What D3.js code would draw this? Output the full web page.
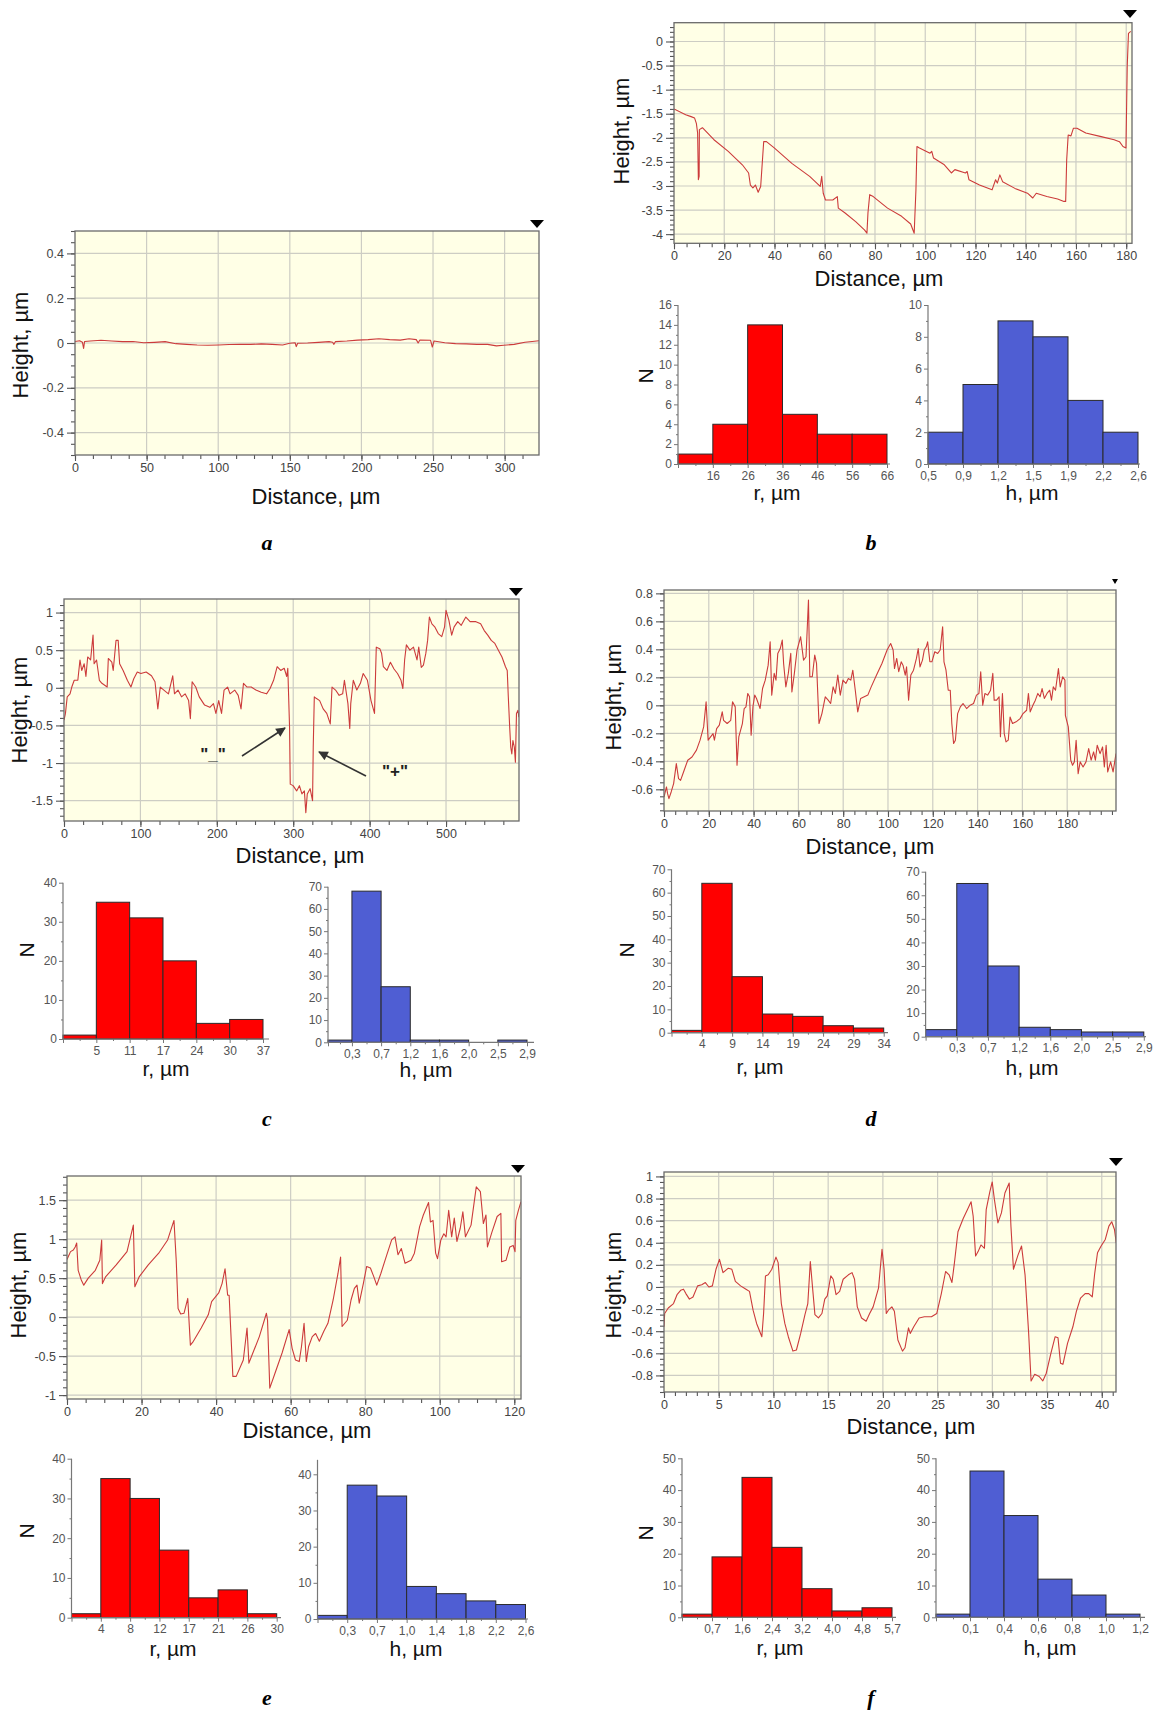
<!DOCTYPE html>
<html><head><meta charset="utf-8">
<script src="https://cdn.jsdelivr.net/npm/d3@7"></script>
<style>body{margin:0;background:#fff}</style>
</head><body>
<svg id="fig" width="1155" height="1714"></svg>
<script>
// ---------------- DATA ----------------
// profiles: [distance µm, height µm]
const aProfile = [[0,0.007],[3.2,0.010],[5.2,0.003],[6.0,-0.024],[6.7,0.007],[10.7,0.009],[18.2,0.012],[25.6,0.009],[33.1,0.006],[40.5,0.007],[48.0,0.001],[55.5,0.003],[62.9,0.006],[70.4,-0.003],[77.9,-0.006],[85.3,-0.009],[92.8,-0.010],[100.2,-0.009],[107.7,-0.007],[115.2,-0.006],[122.6,-0.006],[130.1,-0.004],[137.6,-0.006],[145.0,-0.009],[150.0,-0.001],[153.7,0.001],[154.5,-0.016],[155.5,-0.001],[162.4,0.000],[169.9,0.003],[177.4,0.006],[179.9,0.003],[180.8,-0.006],[181.8,0.006],[189.8,0.009],[197.3,0.013],[204.7,0.015],[212.2,0.019],[219.7,0.015],[227.1,0.013],[233.3,0.019],[238.3,0.015],[239.6,0.000],[240.8,0.013],[248.3,0.012],[249.5,-0.018],[250.7,0.009],[258.2,0.001],[265.7,-0.003],[273.1,-0.004],[280.6,-0.006],[288.1,-0.006],[294.3,-0.013],[299.3,-0.010],[306.7,-0.006],[314.2,0.003],[319.2,0.007],[324.0,0.010]];
const bProfile = [[0,-1.40],[4.65,-1.52],[6.8,-1.56],[8.2,-1.59],[8.9,-1.70],[9.4,-1.90],[9.7,-2.87],[10.0,-2.80],[10.1,-1.83],[11.3,-1.79],[15.9,-2.04],[21.6,-2.28],[27.2,-2.56],[29.7,-2.73],[30.4,-2.98],[31.4,-3.04],[32.4,-2.98],[33.5,-3.13],[34.5,-3.01],[35.7,-2.08],[36.8,-2.08],[39.9,-2.21],[46.9,-2.53],[54.0,-2.80],[58.2,-3.01],[58.8,-2.80],[59.4,-3.15],[60.3,-3.29],[63.2,-3.29],[65.0,-3.22],[65.4,-3.46],[68.1,-3.56],[72.3,-3.74],[75.8,-3.91],[76.8,-3.98],[77.2,-3.56],[77.9,-3.18],[79.3,-3.22],[85.0,-3.46],[90.6,-3.63],[94.2,-3.79],[95.6,-3.98],[96.3,-3.08],[96.7,-2.18],[97.7,-2.21],[101.9,-2.32],[102.6,-2.28],[103.3,-2.42],[107.6,-2.56],[110.4,-2.73],[111.8,-2.66],[116.0,-2.73],[116.7,-2.70],[117.4,-2.87],[121.6,-2.98],[126.6,-3.08],[128.0,-2.87],[128.7,-2.94],[129.7,-2.77],[130.8,-2.91],[135.7,-3.05],[140.7,-3.15],[142.8,-3.25],[144.2,-3.15],[148.4,-3.22],[152.7,-3.27],[155.2,-3.32],[155.9,-3.32],[156.3,-2.46],[156.9,-1.94],[158.0,-1.96],[159.0,-1.80],[160.4,-1.80],[163.9,-1.90],[169.6,-1.97],[175.2,-2.04],[177.3,-2.08],[178.7,-2.18],[179.9,-2.21],[180.4,-0.52],[180.9,0.17],[181.8,0.21]];
const cProfile = [[0,-0.43],[1.9,-0.34],[4.2,-0.12],[7.9,-0.08],[10.2,0.01],[13.4,0.10],[18.1,0.10],[20.9,0.37],[23.2,0.23],[26.4,0.32],[28.7,0.15],[31.0,0.41],[34.8,0.37],[38.0,0.70],[39.4,0.32],[42.6,0.37],[46.3,0.10],[49.6,0.06],[56.5,0.01],[58.0,0.39],[62.6,0.34],[64.4,0.23],[68.1,0.63],[70.9,0.63],[72.8,0.32],[77.4,0.23],[82.9,0.10],[87.6,0.01],[91.3,0.12],[95.9,0.21],[100.6,0.19],[107.5,0.21],[114.5,0.16],[119.1,0.08],[122.8,-0.28],[126.0,0.01],[130.7,-0.03],[136.7,-0.08],[142.3,0.16],[144.6,-0.08],[149.2,-0.03],[153.8,-0.12],[158.5,-0.08],[163.1,-0.17],[165.4,-0.41],[167.7,0.08],[172.4,0.01],[177.0,-0.12],[184.0,-0.23],[190.9,-0.26],[195.6,-0.21],[198.8,-0.34],[202.5,-0.17],[206.2,-0.34],[209.5,-0.03],[214.1,0.01],[217.3,-0.08],[223.4,-0.03],[228.0,-0.10],[231.7,-0.28],[234.9,0.06],[239.6,0.01],[245.1,0.01],[251.2,-0.03],[258.1,-0.06],[265.1,-0.08],[269.7,-0.01],[274.3,0.10],[279.0,0.28],[283.6,0.23],[288.2,0.26],[291.5,0.15],[292.9,0.26],[295.2,-0.52],[296.1,-1.28],[299.8,-1.30],[304.5,-1.37],[308.1,-1.30],[311.4,-1.41],[314.6,-1.37],[316.5,-1.66],[318.4,-1.41],[322.1,-1.34],[325.3,-1.50],[326.2,-0.79],[327.6,-0.12],[330.0,-0.14],[334.6,-0.17],[339.2,-0.28],[343.9,-0.34],[348.5,-0.48],[350.8,0.01],[355.4,-0.03],[360.1,-0.10],[364.7,-0.08],[367.0,0.10],[371.6,-0.21],[374.0,-0.54],[375.3,-0.21],[378.6,0.10],[383.2,-0.03],[387.9,0.06],[391.6,0.19],[397.1,0.10],[401.8,-0.17],[406.4,-0.34],[408.7,0.54],[413.3,0.52],[415.6,0.46],[418.0,0.28],[422.6,0.23],[427.2,0.34],[431.9,0.25],[436.5,0.19],[441.1,0.10],[443.5,-0.01],[445.8,0.37],[448.1,0.57],[452.7,0.50],[457.4,0.54],[462.0,0.37],[464.3,0.54],[467.6,0.27],[470.4,0.30],[473.6,0.46],[475.9,0.63],[478.2,0.94],[481.5,0.85],[485.2,0.81],[489.8,0.72],[494.4,0.68],[498.1,0.81],[500.0,1.03],[503.7,0.90],[507.4,0.70],[510.6,0.81],[515.3,0.88],[519.9,0.83],[525.9,0.94],[531.5,0.88],[538.4,0.88],[545.3,0.85],[550.0,0.76],[554.6,0.70],[559.2,0.63],[563.9,0.59],[568.5,0.50],[573.2,0.41],[577.8,0.28],[580.1,0.23],[581.5,-0.12],[583.3,-0.52],[584.7,-0.79],[586.1,-0.88],[587.5,-0.70],[589.4,-0.79],[590.8,-0.99],[592.2,-0.34],[594.0,-0.30],[595.4,-0.39]];
const dProfile = [[0,-0.655],[1.1,-0.583],[1.6,-0.631],[2.2,-0.667],[3.2,-0.619],[4.3,-0.559],[5.5,-0.416],[6.5,-0.524],[7.4,-0.536],[9.0,-0.464],[10.6,-0.392],[12.5,-0.369],[14.5,-0.320],[16.1,-0.249],[17.7,-0.154],[18.8,0.025],[19.7,-0.249],[20.8,-0.225],[21.9,-0.202],[22.5,-0.249],[23.5,-0.166],[24.7,-0.142],[26.0,-0.047],[26.6,-0.107],[28.2,-0.130],[29.8,-0.107],[30.6,0.025],[31.8,-0.011],[32.6,-0.428],[33.4,-0.225],[35.0,-0.130],[35.8,-0.023],[36.6,-0.011],[37.4,0.085],[38.2,0.061],[38.9,-0.214],[39.7,-0.011],[40.5,0.073],[41.3,0.049],[42.9,-0.023],[44.0,0.120],[45.2,0.180],[46.5,0.287],[47.4,0.454],[48.1,0.073],[49.2,0.228],[50.0,0.180],[50.8,0.371],[51.9,0.406],[52.8,0.466],[53.4,0.299],[54.4,0.132],[55.5,0.228],[56.6,0.371],[57.1,0.096],[58.2,0.228],[59.4,0.395],[61.0,0.490],[62.3,0.323],[63.4,0.347],[64.5,0.752],[65.1,0.204],[66.2,0.204],[67.3,0.359],[68.1,0.299],[69.2,-0.130],[70.5,-0.059],[72.0,0.061],[73.3,0.037],[74.4,0.013],[75.5,0.132],[76.5,0.085],[77.6,0.216],[78.7,0.073],[79.9,0.180],[81.2,0.156],[82.3,0.192],[83.4,0.180],[84.3,0.251],[85.4,0.108],[86.5,-0.047],[87.8,0.049],[89.4,0.061],[91.0,0.073],[92.5,0.132],[94.9,0.216],[97.3,0.299],[99.6,0.395],[101.2,0.442],[102.3,0.395],[102.9,0.263],[103.9,0.335],[104.8,0.240],[105.9,0.311],[106.7,0.287],[107.7,0.216],[108.3,0.275],[109.2,0.037],[110.2,0.216],[111.4,0.251],[112.7,0.335],[113.5,0.406],[114.3,0.275],[115.4,0.323],[116.2,0.395],[117.1,0.418],[117.7,0.454],[118.7,0.311],[119.6,0.311],[120.9,0.383],[122.2,0.371],[123.3,0.395],[124.4,0.561],[125.0,0.311],[125.9,0.251],[126.9,0.108],[127.8,0.108],[128.5,-0.130],[129.3,-0.273],[130.1,-0.249],[131.1,-0.059],[132.3,-0.011],[133.5,0.013],[135.1,-0.023],[136.7,0.001],[138.2,0.013],[139.5,0.073],[140.6,0.085],[141.4,0.240],[142.3,0.001],[143.3,0.085],[144.5,0.073],[145.8,0.108],[146.8,0.228],[147.4,0.037],[148.5,0.037],[149.6,0.061],[150.2,-0.225],[151.1,0.085],[151.9,-0.202],[152.7,-0.261],[153.7,-0.249],[154.5,-0.083],[155.6,-0.130],[157.2,-0.118],[159.0,-0.095],[160.3,-0.059],[161.9,-0.035],[162.7,0.085],[163.5,-0.047],[164.7,0.001],[165.8,0.037],[166.9,0.085],[167.9,0.061],[168.8,0.120],[169.8,0.049],[171.0,0.085],[172.2,0.108],[173.0,0.037],[173.8,0.132],[174.8,0.108],[176.1,0.263],[176.9,0.132],[178.0,0.204],[179.0,0.180],[179.2,-0.071],[180.5,-0.154],[181.6,-0.392],[182.4,-0.428],[183.2,-0.404],[184.0,-0.249],[184.9,-0.488],[185.8,-0.404],[187.1,-0.440],[188.4,-0.404],[189.6,-0.309],[190.7,-0.392],[191.8,-0.333],[192.6,-0.392],[193.4,-0.285],[194.7,-0.345],[195.8,-0.297],[196.6,-0.440],[197.4,-0.285],[198.1,-0.476],[199.4,-0.404],[200.5,-0.476],[201.8,-0.345]];
const eProfile = [[0,0.74],[0.95,0.84],[1.7,0.86],[2.2,0.90],[2.6,0.95],[3.0,0.60],[3.8,0.48],[4.5,0.41],[5.7,0.50],[7.6,0.60],[8.8,0.73],[9.3,0.99],[9.5,0.43],[10.4,0.52],[13.2,0.67],[16.1,0.84],[17.8,1.18],[18.2,0.39],[19.4,0.52],[21.8,0.67],[24.6,0.82],[27.0,0.99],[28.7,1.24],[29.3,0.73],[29.8,0.11],[30.5,0.04],[31.4,0.05],[32.4,0.24],[33.1,-0.36],[33.9,-0.31],[36.0,-0.14],[37.9,0.03],[38.8,0.20],[40.7,0.31],[41.6,0.43],[42.4,0.62],[43.1,0.28],[43.5,0.28],[44.5,-0.76],[45.4,-0.76],[47.3,-0.55],[48.3,-0.14],[48.8,-0.59],[49.7,-0.48],[51.6,-0.25],[53.5,0.05],[53.8,-0.04],[54.4,-0.91],[55.8,-0.72],[57.7,-0.46],[59.6,-0.16],[60.4,-0.40],[61.3,-0.55],[62.3,-0.57],[62.9,-0.38],[63.6,-0.08],[64.2,-0.57],[64.8,-0.38],[65.8,-0.25],[66.7,-0.21],[67.7,-0.31],[68.9,-0.18],[70.0,-0.08],[71.4,0.22],[72.7,0.56],[73.4,0.77],[73.8,-0.12],[75.2,-0.04],[76.2,0.22],[77.1,0.37],[77.8,0.41],[78.4,0.18],[79.5,0.43],[80.4,0.65],[81.4,0.63],[82.3,0.52],[83.1,0.41],[84.2,0.56],[85.6,0.77],[87.1,0.99],[88.0,1.03],[88.8,0.80],[89.7,0.88],[90.7,0.69],[92.3,0.73],[93.2,0.82],[94.6,1.16],[95.6,1.31],[97.0,1.47],[97.5,1.22],[98.2,1.24],[98.9,0.82],[99.4,0.75],[100.3,0.99],[101.1,1.07],[101.7,1.03],[102.4,1.37],[103.2,1.03],[103.9,1.27],[104.6,0.97],[105.5,1.14],[106.2,1.35],[106.9,1.03],[108.4,1.18],[109.8,1.67],[110.9,1.61],[111.7,1.20],[112.4,1.31],[112.8,0.90],[114.0,1.09],[115.4,1.29],[116.4,1.33],[116.6,0.71],[117.8,0.73],[118.8,0.90],[119.7,0.92],[120.2,0.84],[120.4,1.24],[121.1,1.37],[121.8,1.48]];
const fProfile = [[0,-0.36],[0.06,-0.24],[0.39,-0.19],[0.87,-0.15],[1.19,-0.07],[1.52,-0.03],[1.78,-0.02],[2.0,-0.06],[2.32,-0.11],[2.65,-0.09],[3.07,0.01],[3.45,0.02],[3.78,0.04],[4.10,0.00],[4.42,0.01],[4.75,0.16],[5.07,0.25],[5.39,0.13],[5.88,0.17],[6.2,0.16],[6.52,0.05],[7.0,0.01],[7.49,-0.02],[7.81,-0.04],[8.14,-0.21],[8.46,-0.33],[8.94,-0.45],[9.10,-0.24],[9.27,0.10],[9.52,0.11],[9.85,0.16],[10.23,0.27],[10.43,0.22],[10.72,-0.15],[11.04,-0.33],[11.36,-0.45],[11.78,-0.58],[12.1,-0.57],[12.49,-0.42],[12.88,-0.25],[13.14,-0.15],[13.37,0.23],[13.56,0.01],[13.79,-0.25],[14.11,-0.28],[14.43,-0.24],[14.69,-0.11],[14.92,-0.08],[15.24,0.10],[15.46,0.07],[15.72,-0.07],[16.05,-0.04],[16.37,0.07],[16.85,0.11],[17.18,0.13],[17.41,0.07],[17.66,-0.18],[18.05,-0.28],[18.47,-0.31],[18.79,-0.24],[19.11,-0.18],[19.6,-0.01],[19.92,0.34],[20.11,0.16],[20.31,-0.24],[20.5,-0.21],[20.82,-0.18],[21.05,-0.22],[21.37,-0.48],[21.79,-0.58],[22.02,-0.55],[22.34,-0.37],[22.5,-0.42],[22.82,-0.36],[23.31,-0.28],[23.79,-0.27],[24.44,-0.27],[24.92,-0.24],[25.34,-0.06],[25.73,0.14],[26.05,0.11],[26.31,0.04],[26.54,0.22],[26.86,0.50],[27.34,0.62],[27.73,0.70],[28.06,0.77],[28.25,0.64],[28.47,0.28],[28.7,0.32],[28.96,0.38],[29.28,0.35],[29.44,0.70],[29.77,0.86],[29.99,0.95],[30.19,0.79],[30.51,0.58],[30.83,0.67],[31.15,0.85],[31.54,0.94],[31.7,0.55],[31.93,0.16],[32.35,0.29],[32.67,0.37],[32.99,0.11],[33.32,-0.42],[33.54,-0.85],[33.87,-0.79],[34.28,-0.81],[34.61,-0.85],[34.93,-0.78],[35.35,-0.60],[35.74,-0.45],[36.0,-0.46],[36.23,-0.69],[36.45,-0.70],[36.87,-0.51],[37.36,-0.36],[37.68,-0.22],[38.06,-0.10],[38.48,-0.06],[38.81,-0.06],[39.13,-0.09],[39.35,0.12],[39.61,0.31],[39.94,0.37],[40.32,0.43],[40.65,0.55],[40.91,0.59],[41.16,0.52],[41.32,0.40]];

// profile axis ticks
const aXTicks = [0,50,100,150,200,250,300],        aYTicks = [-0.4,-0.2,0,0.2,0.4];
const bXTicks = [0,20,40,60,80,100,120,140,160,180], bYTicks = [-4,-3.5,-3,-2.5,-2,-1.5,-1,-0.5,0];
const cXTicks = [0,100,200,300,400,500],            cYTicks = [-1.5,-1,-0.5,0,0.5,1];
const dXTicks = [0,20,40,60,80,100,120,140,160,180], dYTicks = [-0.6,-0.4,-0.2,0,0.2,0.4,0.6,0.8];
const eXTicks = [0,20,40,60,80,100,120],            eYTicks = [-1,-0.5,0,0.5,1,1.5];
const fXTicks = [0,5,10,15,20,25,30,35,40],          fYTicks = [-0.8,-0.6,-0.4,-0.2,0,0.2,0.4,0.6,0.8,1];

// histograms: counts per bin and bin-edge labels
const bRCounts = [1,4,14,5,3,3],        bRLabels = ["","16","26","36","46","56","66"];
const bHCounts = [2,5,9,8,4,2],         bHLabels = ["0,5","0,9","1,2","1,5","1,9","2,2","2,6"];
const cRCounts = [1,35,31,20,4,5],      cRLabels = ["","5","11","17","24","30","37"];
const cHCounts = [1,68,25,1,1,0,1],     cHLabels = ["","0,3","0,7","1,2","1,6","2,0","2,5","2,9"];
const dRCounts = [1,64,24,8,7,3,2],     dRLabels = ["","4","9","14","19","24","29","34"];
const dHCounts = [3,65,30,4,3,2,2],     dHLabels = ["","0,3","0,7","1,2","1,6","2,0","2,5","2,9"];
const eRCounts = [1,35,30,17,5,7,1],    eRLabels = ["","4","8","12","17","21","26","30"];
const eHCounts = [1,37,34,9,7,5,4],     eHLabels = ["","0,3","0,7","1,0","1,4","1,8","2,2","2,6"];
const fRCounts = [1,19,44,22,9,2,3],    fRLabels = ["","0,7","1,6","2,4","3,2","4,0","4,8","5,7"];
const fHCounts = [1,46,32,12,7,1],      fHLabels = ["","0,1","0,4","0,6","0,8","1,0","1,2"];
const ticks16 = [0,2,4,6,8,10,12,14,16], ticks10 = [0,2,4,6,8,10];
const ticks40 = [0,10,20,30,40], ticks50 = [0,10,20,30,40,50], ticks70 = [0,10,20,30,40,50,60,70];

// ---------------- DRAWING ----------------
const svg = d3.select('#fig');
const FONT = 'Arial, "Liberation Sans", sans-serif';
const BG = '#ffffe6', GRID = '#cdcdc4', LINE = '#cc3b3b';
const fmt = d => String(+d.toFixed(2));

function drawProfile(L, data, xTicks, yTicks){
  const g = svg.append('g');
  const x = d3.scaleLinear().domain(L.xDom).range([L.left, L.right]);
  const y = d3.scaleLinear().domain(L.yDom).range([L.bottom, L.top]);
  g.append('rect').attr('x',L.left).attr('y',L.top).attr('width',L.right-L.left).attr('height',L.bottom-L.top).attr('fill',BG);
  g.append('g').selectAll('line').data(xTicks.filter(v=>v>L.xDom[0])).join('line')
    .attr('x1',d=>x(d)).attr('x2',d=>x(d)).attr('y1',L.top).attr('y2',L.bottom).attr('stroke',GRID).attr('stroke-width',1.2);
  g.append('g').selectAll('line').data(yTicks).join('line')
    .attr('y1',d=>y(d)).attr('y2',d=>y(d)).attr('x1',L.left).attr('x2',L.right).attr('stroke',GRID).attr('stroke-width',1.2);
  const cid = 'clip'+L.id;
  svg.append('clipPath').attr('id',cid).append('rect').attr('x',L.left).attr('y',L.top).attr('width',L.right-L.left).attr('height',L.bottom-L.top);
  g.append('path').datum(data).attr('clip-path',`url(#${cid})`)
    .attr('d', d3.line().x(d=>x(d[0])).y(d=>y(d[1])))
    .attr('fill','none').attr('stroke',LINE).attr('stroke-width',1.1).attr('stroke-linejoin','round');
  const xMinor = d3.range(L.xDom[0], L.xDom[1]+1e-9, L.xMinor);
  const yMinor = d3.range(Math.ceil(L.yDom[0]/L.yMinor-1e-9)*L.yMinor, L.yDom[1]+1e-9, L.yMinor);
  const styleAxis = (sel)=>{ sel.select('.domain').remove(); sel.selectAll('line').attr('stroke','#555').attr('stroke-width',1.1);
    sel.attr('font-family',FONT).attr('font-size',12.5); sel.selectAll('text').attr('fill','#444'); };
  g.append('g').attr('transform',`translate(0,${L.bottom})`).call(d3.axisBottom(x).tickValues(xMinor).tickSize(4).tickFormat('')).call(styleAxis);
  g.append('g').attr('transform',`translate(0,${L.bottom})`).call(d3.axisBottom(x).tickValues(xTicks).tickSize(6).tickPadding(2).tickFormat(fmt)).call(styleAxis);
  g.append('g').attr('transform',`translate(${L.left},0)`).call(d3.axisLeft(y).tickValues(yMinor).tickSize(4).tickFormat('')).call(styleAxis);
  g.append('g').attr('transform',`translate(${L.left},0)`).call(d3.axisLeft(y).tickValues(yTicks).tickSize(8).tickPadding(3).tickFormat(fmt)).call(styleAxis);
  g.append('rect').attr('x',L.left).attr('y',L.top).attr('width',L.right-L.left).attr('height',L.bottom-L.top)
    .attr('fill','none').attr('stroke','#6a6a6a').attr('stroke-width',1.3);
  const m = L.marker, mw = L.markerW || 7, mh = L.markerH || 4;
  g.append('path').attr('d',`M${m[0]-mw},${m[1]-mh}L${m[0]+mw},${m[1]-mh}L${m[0]},${m[1]+4}Z`).attr('fill','#000');
  g.append('text').attr('transform',`translate(${L.yTitle[0]},${L.yTitle[1]}) rotate(-90)`).attr('text-anchor','middle').attr('dy','0.35em')
    .attr('font-family',FONT).attr('font-size',22).attr('fill','#111').text('Height, µm');
  g.append('text').attr('x',L.xTitle[0]).attr('y',L.xTitle[1]).attr('text-anchor','middle').attr('dy','0.35em')
    .attr('font-family',FONT).attr('font-size',22).attr('fill','#111').text('Distance, µm');
}

function drawHist(L, counts, labels, yTicks){
  const g = svg.append('g');
  const n = counts.length, s0 = L.start || 0;
  const x = d3.scaleLinear().domain([s0, n]).range([L.left, L.right]);
  const y = d3.scaleLinear().domain([0, L.yTopVal]).range([L.y0, L.yTopPx]);
  const bars = counts.map((v,i)=>({v,i})).filter(d=>d.v>0);
  g.selectAll('rect').data(bars).join('rect')
    .attr('x',d=>x(d.i===0?s0:d.i)).attr('width',d=>x(d.i+1)-x(d.i===0?s0:d.i))
    .attr('y',d=>y(d.v)).attr('height',d=>y(0)-y(d.v))
    .attr('fill',L.color).attr('stroke','#2a2a2a').attr('stroke-width',1);
  const styleAxis = (sel)=>{ sel.select('.domain').remove(); sel.selectAll('line').attr('stroke','#777');
    sel.attr('font-family',FONT).attr('font-size',12); sel.selectAll('text').attr('fill','#555'); };
  const edges = [s0].concat(d3.range(1, n+1));
  const mids = d3.range(0, n).map(i=> (i===0 ? (s0+1)/2 : i+0.5));
  g.append('g').attr('transform',`translate(0,${L.y0})`).call(d3.axisBottom(x).tickValues(mids).tickSize(2).tickFormat('')).call(styleAxis);
  g.append('g').attr('transform',`translate(0,${L.y0})`).call(d3.axisBottom(x).tickValues(edges).tickSize(4).tickPadding(3).tickFormat((d,i)=>labels[i])).call(styleAxis);
  const step = yTicks[1]-yTicks[0];
  const topVal = L.axisTop || L.yTopVal;
  const minor = d3.range(step/2, topVal+1e-9, step/2).filter(v=>!yTicks.includes(+v.toFixed(6)));
  g.append('g').attr('transform',`translate(${L.left},0)`).call(d3.axisLeft(y).tickValues(minor).tickSize(2).tickFormat('')).call(styleAxis);
  g.append('g').attr('transform',`translate(${L.left},0)`).call(d3.axisLeft(y).tickValues(yTicks).tickSize(4).tickPadding(2).tickFormat(d=>d)).call(styleAxis);
  g.append('line').attr('x1',L.left).attr('x2',L.axisEnd).attr('y1',L.y0).attr('y2',L.y0).attr('stroke','#777').attr('stroke-width',1.2);
  g.append('line').attr('x1',L.left).attr('x2',L.left).attr('y1',L.y0).attr('y2',y(topVal)).attr('stroke','#777').attr('stroke-width',1.2);
  g.append('text').attr('x',L.title[0]).attr('y',L.title[1]).attr('text-anchor','middle').attr('dy','0.35em')
    .attr('font-family',FONT).attr('font-size',21).attr('fill','#111').text(L.titleText);
  if (L.N) g.append('text').attr('transform',`translate(${L.N[0]},${L.N[1]}) rotate(-90)`).attr('text-anchor','middle').attr('dy','0.35em')
    .attr('font-family',FONT).attr('font-size',21).attr('fill','#111').text('N');
}

const RED = '#ff0000', BLUE = '#4f5ed3';

drawProfile({id:'a',left:75,right:539,top:231,bottom:455,xDom:[0,324],yDom:[-0.5,0.5],xMinor:12.5,yMinor:0.05,marker:[537,224],yTitle:[20,345],xTitle:[316,496]}, aProfile, aXTicks, aYTicks);
drawProfile({id:'b',left:674,right:1132,top:22.7,bottom:243.3,xDom:[0,182.3],yDom:[-4.19,0.39],xMinor:5,yMinor:0.1,marker:[1130,14],yTitle:[621,131],xTitle:[879,278]}, bProfile, bXTicks, bYTicks);
drawProfile({id:'c',left:64,right:519,top:599,bottom:821,xDom:[0,595.5],yDom:[-1.77,1.18],xMinor:25,yMinor:0.1,marker:[516,592],yTitle:[19,710],xTitle:[300,855]}, cProfile, cXTicks, cYTicks);
drawProfile({id:'d',left:664,right:1116,top:590,bottom:811,xDom:[0,201.8],yDom:[-0.755,0.824],xMinor:5,yMinor:0.05,marker:[1115,580],markerW:3,markerH:1,yTitle:[613,697],xTitle:[870,846]}, dProfile, dXTicks, dYTicks);
drawProfile({id:'e',left:67,right:521,top:1176,bottom:1399,xDom:[0,121.8],yDom:[-1.05,1.81],xMinor:5,yMinor:0.1,marker:[518,1169],yTitle:[18,1285],xTitle:[307,1430]}, eProfile, eXTicks, eYTicks);
drawProfile({id:'f',left:664,right:1116,top:1172,bottom:1392,xDom:[0,41.3],yDom:[-0.95,1.04],xMinor:1,yMinor:0.05,marker:[1116,1162],yTitle:[613,1285],xTitle:[911,1426]}, fProfile, fXTicks, fYTicks);

drawHist({left:678,right:887,axisEnd:890,y0:464,yTopPx:305,yTopVal:16,color:RED,title:[777,493],titleText:'r, µm',N:[646,376]}, bRCounts, bRLabels, ticks16);
drawHist({left:928,right:1138,axisEnd:1140,y0:464,yTopPx:305,yTopVal:10,color:BLUE,title:[1032,493],titleText:'h, µm'}, bHCounts, bHLabels, ticks10);
drawHist({left:63,right:263,axisEnd:269,y0:1039,yTopPx:882.7,yTopVal:40,color:RED,title:[166,1069],titleText:'r, µm',N:[27,950]}, cRCounts, cRLabels, ticks40);
drawHist({left:328,right:527,axisEnd:534,y0:1042.3,yTopPx:886.7,yTopVal:70,start:0.18,color:BLUE,title:[426,1070],titleText:'h, µm'}, cHCounts, cHLabels, ticks70);
drawHist({left:671.5,right:883.7,axisEnd:888,y0:1032.7,yTopPx:869.3,yTopVal:70,color:RED,title:[760,1067],titleText:'r, µm',N:[627,950]}, dRCounts, dRLabels, ticks70);
drawHist({left:925.6,right:1143.8,axisEnd:1146,y0:1036.7,yTopPx:871.7,yTopVal:70,color:BLUE,title:[1032,1068],titleText:'h, µm'}, dHCounts, dHLabels, ticks70);
drawHist({left:71.5,right:276.7,axisEnd:281,y0:1617.7,yTopPx:1458.7,yTopVal:40,color:RED,title:[173,1649],titleText:'r, µm',N:[27,1531]}, eRCounts, eRLabels, ticks40);
drawHist({left:317.5,right:525.5,axisEnd:528,y0:1619,yTopPx:1474.3,yTopVal:40,axisTop:44,color:BLUE,title:[416,1649],titleText:'h, µm'}, eHCounts, eHLabels, ticks40);
drawHist({left:682,right:892,axisEnd:896,y0:1617.3,yTopPx:1458.3,yTopVal:50,color:RED,title:[780,1648],titleText:'r, µm',N:[646,1533]}, fRCounts, fRLabels, ticks50);
drawHist({left:936,right:1140,axisEnd:1145,y0:1617.3,yTopPx:1458.3,yTopVal:50,color:BLUE,title:[1050,1648],titleText:'h, µm'}, fHCounts, fHLabels, ticks50);

// annotations in panel c
const defs = svg.append('defs');
defs.append('marker').attr('id','arr').attr('viewBox','0 0 10 10').attr('refX',9).attr('refY',5)
  .attr('markerWidth',7).attr('markerHeight',6).attr('orient','auto-start-reverse')
  .append('path').attr('d','M0,0L10,5L0,10Z').attr('fill','#333');
svg.append('line').attr('x1',242).attr('y1',756).attr('x2',285).attr('y2',728).attr('stroke','#333').attr('stroke-width',1.6).attr('marker-end','url(#arr)');
svg.append('line').attr('x1',366).attr('y1',776).attr('x2',319).attr('y2',752).attr('stroke','#333').attr('stroke-width',1.6).attr('marker-end','url(#arr)');
svg.append('text').attr('x',213).attr('y',760).attr('text-anchor','middle').attr('font-family',FONT).attr('font-weight','bold').attr('font-size',17).attr('fill','#222').text('"_"');
svg.append('text').attr('x',395).attr('y',777).attr('text-anchor','middle').attr('font-family',FONT).attr('font-weight','bold').attr('font-size',17).attr('fill','#222').text('"+"');

// panel letters
const letters = [['a',267,550],['b',871,550],['c',267,1126],['d',871,1126],['e',267,1705],['f',871,1705]];
svg.selectAll('.lt').data(letters).join('text').attr('class','lt')
  .attr('x',d=>d[1]).attr('y',d=>d[2]).attr('text-anchor','middle')
  .attr('font-family','"Liberation Serif", "Times New Roman", serif').attr('font-style','italic').attr('font-weight','bold')
  .attr('font-size',22).attr('fill','#000').text(d=>d[0]);
</script>
</body></html>
